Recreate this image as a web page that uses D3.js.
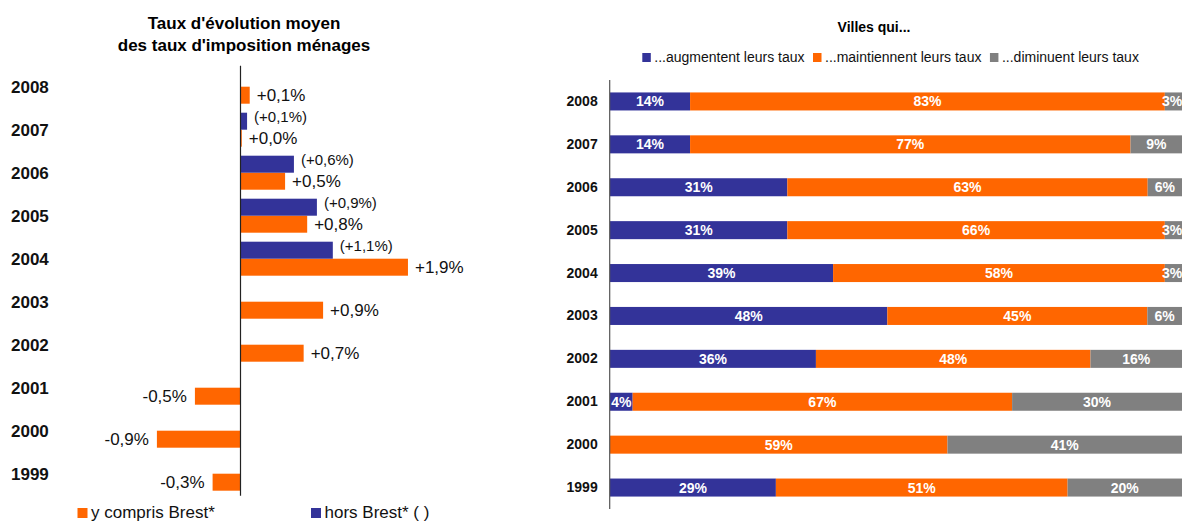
<!DOCTYPE html>
<html>
<head>
<meta charset="utf-8">
<script src="https://cdn.jsdelivr.net/npm/d3@7"></script>
<style>
  html, body { margin: 0; padding: 0; background: #fff; }
  svg { display: block; font-family: "Liberation Sans", Arial, sans-serif; }
</style>
</head>
<body>
<svg id="chart" width="1182" height="522"></svg>
<script>
// ---------- Data: left chart ----------
const years = ["2008","2007","2006","2005","2004","2003","2002","2001","2000","1999"];
const yComprisValues = [0.11, 0.02, 0.51, 0.76, 1.90, 0.94, 0.72, -0.51, -0.94, -0.31];
const yComprisLabels = ["+0,1%","+0,0%","+0,5%","+0,8%","+1,9%","+0,9%","+0,7%","-0,5%","-0,9%","-0,3%"];
const horsValues = [null, 0.08, 0.61, 0.87, 1.05, null, null, null, null, null];
const horsLabels = [null, "(+0,1%)", "(+0,6%)", "(+0,9%)", "(+1,1%)", null, null, null, null, null];

// ---------- Data: right chart (percent of towns) ----------
const augmentent   = [14, 14, 31, 31, 39, 48, 36,  4,  0, 29];
const maintiennent = [83, 77, 63, 66, 58, 45, 48, 67, 59, 51];
const diminuent    = [ 3,  9,  6,  3,  3,  6, 16, 30, 41, 20];
const seriesNames  = ["...augmentent leurs taux", "...maintiennent leurs taux", "...diminuent leurs taux"];

const BLUE = "#333399", ORANGE = "#FF6600", GRAY = "#808080";

const svg = d3.select("#chart");

// ================= LEFT CHART =================
const left = svg.append("g");

left.append("text").attr("x", 244).attr("y", 28.5).attr("text-anchor", "middle")
  .attr("font-size", 17).attr("font-weight", "bold").text("Taux d'évolution moyen");
left.append("text").attr("x", 244).attr("y", 50.5).attr("text-anchor", "middle")
  .attr("font-size", 17).attr("font-weight", "bold").text("des taux d'imposition ménages");

const xL = d3.scaleLinear().domain([-1, 2]).range([240 - 88.4, 240 + 2 * 88.4]);
const yL = d3.scaleBand().domain(years).range([65.2, 495.2]).paddingInner(0).paddingOuter(0);
const bwL = yL.bandwidth();
const subL = d3.scaleBand().domain(["hors", "ycompris"]).range([bwL / 2 - 17, bwL / 2 + 17]);

const leftData = years.map((yr, i) => ({
  year: yr, y: yComprisValues[i], yl: yComprisLabels[i], h: horsValues[i], hl: horsLabels[i]
}));

// orange bars (y compris Brest)
left.selectAll("rect.yc").data(leftData).join("rect").attr("class", "yc")
  .attr("x", d => xL(Math.min(0, d.y)))
  .attr("y", d => yL(d.year) + subL("ycompris"))
  .attr("width", d => Math.abs(xL(d.y) - xL(0)))
  .attr("height", subL.bandwidth())
  .attr("fill", ORANGE);

// blue bars (hors Brest)
const horsData = leftData.filter(d => d.h !== null);
left.selectAll("rect.hb").data(horsData).join("rect").attr("class", "hb")
  .attr("x", d => xL(Math.min(0, d.h)))
  .attr("y", d => yL(d.year) + subL("hors"))
  .attr("width", d => Math.abs(xL(d.h) - xL(0)))
  .attr("height", subL.bandwidth())
  .attr("fill", BLUE);

// value labels
left.selectAll("text.ycl").data(leftData).join("text").attr("class", "ycl")
  .attr("x", d => d.y >= 0 ? xL(d.y) + 7 : xL(d.y) - 8)
  .attr("y", d => yL(d.year) + subL("ycompris") + subL.bandwidth() / 2 + 6)
  .attr("text-anchor", d => d.y >= 0 ? "start" : "end")
  .attr("font-size", 17).attr("fill", "#111")
  .text(d => d.yl);

left.selectAll("text.hl").data(horsData).join("text").attr("class", "hl")
  .attr("x", d => xL(d.h) + 7)
  .attr("y", d => yL(d.year) + subL("hors") + subL.bandwidth() / 2 + 1)
  .attr("font-size", 15).attr("fill", "#111")
  .text(d => d.hl);

// axis line
const axL = left.append("g").attr("transform", `translate(${xL(0)},0)`)
  .call(d3.axisLeft(yL).tickSize(0).tickSizeOuter(0).tickFormat(""));
axL.select(".domain").attr("stroke", "#222").attr("stroke-width", 1.2);

// year labels
left.selectAll("text.yr").data(years).join("text").attr("class", "yr")
  .attr("x", 11).attr("y", d => yL(d) + bwL / 2 + 6)
  .attr("font-size", 17).attr("font-weight", "bold").attr("fill", "#111")
  .text(d => d);

// legend
const legL = [
  { label: "y compris Brest*", color: ORANGE, x: 77.5 },
  { label: "hors Brest* ( )", color: BLUE, x: 311 }
];
legL.forEach(l => {
  left.append("rect").attr("x", l.x).attr("y", 508).attr("width", 10).attr("height", 10).attr("fill", l.color);
  left.append("text").attr("x", l.x + 13.5).attr("y", 518.3).attr("font-size", 17).attr("fill", "#111").text(l.label);
});

// ================= RIGHT CHART =================
const right = svg.append("g");

right.append("text").attr("x", 874).attr("y", 32.3).attr("text-anchor", "middle")
  .attr("font-size", 14).attr("font-weight", "bold").text("Villes qui...");

// legend
const colorsR = [BLUE, ORANGE, GRAY];
let lx = 642.3;
seriesNames.forEach((name, i) => {
  right.append("rect").attr("x", lx).attr("y", 53).attr("width", 8.5).attr("height", 9).attr("fill", colorsR[i]);
  const t = right.append("text").attr("x", lx + 12).attr("y", 61.8).attr("font-size", 14).attr("fill", "#111").text(name);
  lx = lx + 12 + t.node().getComputedTextLength() + 8.5;
});

const xR = d3.scaleLinear().domain([0, 1]).range([610, 1182]);
const yR = d3.scaleBand().domain(years).range([80, 509]).paddingInner(0.58).paddingOuter(0.29);

const rightRows = years.map((yr, i) => {
  const vals = [augmentent[i], maintiennent[i], diminuent[i]];
  const total = d3.sum(vals);
  let acc = 0;
  return vals.map((v, k) => {
    const seg = { year: yr, k, v, x0: acc / total, x1: (acc + v) / total };
    acc += v;
    return seg;
  });
}).flat();

right.selectAll("rect.seg").data(rightRows).join("rect").attr("class", "seg")
  .attr("x", d => xR(d.x0))
  .attr("y", d => yR(d.year))
  .attr("width", d => xR(d.x1) - xR(d.x0))
  .attr("height", yR.bandwidth())
  .attr("fill", d => colorsR[d.k]);

right.selectAll("text.segl").data(rightRows.filter(d => d.v > 0)).join("text").attr("class", "segl")
  .attr("x", d => Math.min((xR(d.x0) + xR(d.x1)) / 2, 1172))
  .attr("y", d => yR(d.year) + yR.bandwidth() / 2 + 5)
  .attr("text-anchor", "middle")
  .attr("font-size", 14).attr("font-weight", "bold").attr("fill", "#fff")
  .text(d => d.v + "%");

const axR = right.append("g").attr("transform", "translate(609.7,0)")
  .call(d3.axisLeft(yR).tickSize(0).tickSizeOuter(0).tickPadding(12));
axR.select(".domain").attr("stroke", "#555").attr("stroke-width", 1.2)
  .attr("d", "M0,80V509");
axR.selectAll(".tick text").attr("font-size", 14).attr("font-weight", "bold")
  .attr("fill", "#111").attr("font-family", "'Liberation Sans', Arial, sans-serif");
</script>
</body>
</html>
